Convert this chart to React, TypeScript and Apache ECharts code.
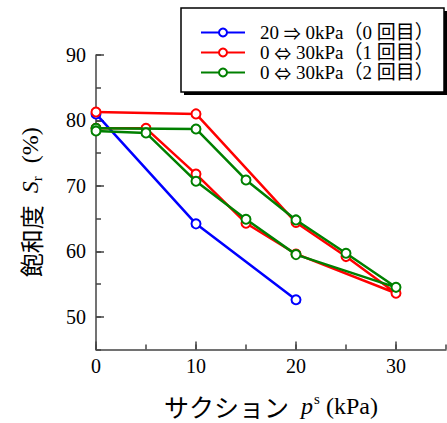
import React, { useEffect, useRef } from "react";
import * as echarts from "echarts";

const seriesNames = [
  "20 ⇒ 0kPa（0 回目）",
  "0 ⇔ 30kPa（1 回目）",
  "0 ⇔ 30kPa（2 回目）",
];
const seriesColors = ["#0000ff", "#ff0000", "#008000"];
const blueData = [[0, 81.0], [10, 64.2], [20, 52.6]];
const redData = [
  [0, 81.3], [10, 81.0], [20, 64.4], [25, 59.2], [30, 53.6],
  [20, 59.6], [15, 64.3], [10, 71.8], [5, 78.8], [0, 78.8],
];
const greenData = [
  [0, 78.8], [10, 78.7], [15, 70.9], [20, 64.8], [25, 59.7], [30, 54.5],
  [20, 59.5], [15, 64.9], [10, 70.7], [5, 78.1], [0, 78.4],
];
const xMajor = [0, 10, 20, 30];
const yMajor = [50, 60, 70, 80, 90];

const FONT = "Liberation Serif, Times New Roman, DejaVu Serif, Noto Sans CJK JP, serif";
const CJK = "Noto Sans CJK JP, sans-serif";
const AXIS_COLOR = "#444";

export default function App() {
  const ref = useRef<HTMLDivElement>(null);
  useEffect(() => {
    if (!ref.current) return;
    const chart = echarts.init(ref.current, null, { renderer: "svg" });
    const allData = [blueData, redData, greenData];
    chart.setOption({
      animation: false,
      backgroundColor: "#fff",
      textStyle: { fontFamily: FONT },
      grid: { left: 96, right: 1, top: 55, bottom: 70, containLabel: false },
      graphic: [
        { type: "rect", shape: { x: 184, y: 11, width: 263, height: 84 }, style: { fill: "#000" }, z: 1 },
        { type: "rect", shape: { x: 181, y: 8, width: 263, height: 84 }, style: { fill: "#fff", stroke: "#000", lineWidth: 1.5 }, z: 2 },
      ],
      legend: {
        orient: "vertical",
        left: 195,
        top: 18,
        itemWidth: 44,
        itemHeight: 10,
        itemGap: 1,
        z: 10,
        formatter: (n: string) => n.replace(/([⇒⇔])/, "{a|$1}"),
        textStyle: {
          fontFamily: FONT,
          fontSize: 19,
          lineHeight: 19,
          color: "#000",
          padding: [0, 0, 0, 10],
          rich: {
            a: { fontFamily: CJK, fontSize: 17, lineHeight: 19, color: "#000" },
          },
        },
        data: seriesNames,
      },
      xAxis: [
        {
          type: "value",
          min: 0,
          max: 35,
          interval: 5,
          splitLine: { show: false },
          axisLine: { show: true, lineStyle: { color: AXIS_COLOR, width: 1.5 } },
          axisTick: { show: true, inside: true, length: 8, customValues: xMajor, lineStyle: { color: AXIS_COLOR, width: 1.5 } },
          axisLabel: { customValues: xMajor, fontFamily: FONT, fontSize: 20, color: "#000", margin: 6 },
          name: "{k|サクション}{t|  }{i|p}{sup|s}{t| (kPa)}",
          nameLocation: "middle",
          nameGap: 42,
          nameTextStyle: {
            rich: {
              k: { fontFamily: CJK, fontSize: 25, color: "#000", lineHeight: 28 },
              t: { fontFamily: FONT, fontSize: 24, color: "#000", lineHeight: 28 },
              i: { fontFamily: FONT, fontSize: 24, fontStyle: "italic", color: "#000", lineHeight: 28 },
              sup: { fontFamily: FONT, fontSize: 15, color: "#000", verticalAlign: "top", lineHeight: 28, padding: [0, 0, 8, 1] },
            },
          },
        },
        {
          type: "value",
          min: 0,
          max: 35,
          interval: 5,
          position: "bottom",
          splitLine: { show: false },
          axisLine: { show: false },
          axisTick: { show: true, inside: true, length: 5, lineStyle: { color: AXIS_COLOR, width: 1.5 } },
          axisLabel: { show: false },
        },
      ],
      yAxis: [
        {
          type: "value",
          min: 45,
          max: 90,
          interval: 5,
          splitLine: { show: false },
          axisLine: { show: true, lineStyle: { color: AXIS_COLOR, width: 1.5 } },
          axisTick: { show: true, inside: true, length: 8, customValues: yMajor, lineStyle: { color: AXIS_COLOR, width: 1.5 } },
          axisLabel: { customValues: yMajor, fontFamily: FONT, fontSize: 20, color: "#000", margin: 10 },
          name: "{k|飽和度}{t|  }{i|S}{sub|r}{t|  (%)}",
          nameLocation: "middle",
          nameGap: 52,
          nameRotate: 90,
          nameTextStyle: {
            rich: {
              k: { fontFamily: CJK, fontSize: 24, color: "#000", lineHeight: 28 },
              t: { fontFamily: FONT, fontSize: 24, color: "#000", lineHeight: 28 },
              i: { fontFamily: FONT, fontSize: 24, fontStyle: "italic", color: "#000", lineHeight: 28 },
              sub: { fontFamily: FONT, fontSize: 15, color: "#000", verticalAlign: "bottom", lineHeight: 28, padding: [6, 1, 0, 0] },
            },
          },
        },
        {
          type: "value",
          min: 45,
          max: 90,
          interval: 5,
          position: "left",
          splitLine: { show: false },
          axisLine: { show: false },
          axisTick: { show: true, inside: true, length: 5, lineStyle: { color: AXIS_COLOR, width: 1.5 } },
          axisLabel: { show: false },
        },
      ],
      series: seriesNames.map((name, i) => ({
        name,
        type: "line",
        xAxisIndex: 0,
        yAxisIndex: 0,
        data: allData[i],
        symbol: "emptyCircle",
        symbolSize: 9,
        lineStyle: { color: seriesColors[i], width: 2.5 },
        itemStyle: { color: seriesColors[i], borderColor: seriesColors[i], borderWidth: 2.2 },
        z: 3 + i,
      })),
    });
    return () => chart.dispose();
  }, []);
  return <div ref={ref} style={{ position: "fixed", left: 0, top: 0, width: 447, height: 423 }} />;
}
